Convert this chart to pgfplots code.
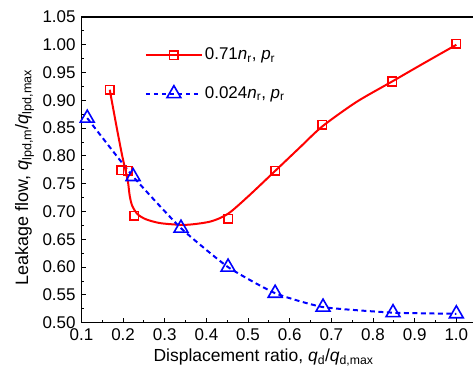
\documentclass[border=0pt]{standalone}
\usepackage{fontspec}
\setmainfont{Liberation Sans}
\usepackage{pgfplots}
\pgfplotsset{compat=1.18}
\begin{document}
\fontsize{17bp}{20bp}\selectfont
\begin{tikzpicture}
\begin{axis}[
  name=ax,
  scale only axis,
  width=392bp, height=306bp,
  xmin=0.1, xmax=1.04, ymin=0.5, ymax=1.05,
  axis x line=box, axis y line=left,
  axis line style={line width=1.1bp,-},
  xtick={0.1,0.2,...,1.01}, ytick={0.5,0.55,...,1.051},
  minor x tick num=1, minor y tick num=1,
  xtick pos=bottom, ytick pos=left,
  tick align=inside,
  major tick length=5bp, minor tick length=3bp,
  every tick/.style={line width=0.9bp, black},
  xticklabel style={/pgf/number format/.cd,fixed,fixed zerofill,precision=1,assume math mode=true},
  yticklabel style={/pgf/number format/.cd,fixed,fixed zerofill,precision=2,assume math mode=true},
  tick label style={font=\fontsize{17bp}{20bp}\selectfont},
  xlabel style={font=\fontsize{17.5bp}{20bp}\selectfont, at={(ticklabel cs:0.465)}, yshift=3bp},
  ylabel style={font=\fontsize{18bp}{21bp}\selectfont, at={(ticklabel cs:0.475)}, yshift=-3bp},
  xlabel={Displacement ratio, \textit{q}\textsubscript{d}/\textit{q}\textsubscript{d,max}},
  ylabel={Leakage flow, \textit{q}\textsubscript{lpd,m}/\textit{q}\textsubscript{lpd,max}},
  legend style={at={(axis cs:0.252,0.998)}, anchor=north west, draw=none, fill=none,
    font=\fontsize{17bp}{20bp}\selectfont, row sep=20bp, inner sep=0pt},
  legend cell align=left,
  legend image code/.code={\draw[mark repeat=2,mark phase=2,#1] plot coordinates {(0bp,0bp)(28bp,0bp)(56bp,0bp)};},
]
\addlegendimage{red, line width=2bp, mark=square, mark size=4.3bp, mark options={solid, fill=white, line width=1.6bp}}
\addlegendentry{0.71\textit{n}\textsubscript{r}, \textit{p}\textsubscript{r}}
\addlegendimage{blue, line width=2bp, dash pattern=on 4bp off 4bp, mark=triangle, mark size=8bp, mark options={solid, fill=white, line width=1.6bp}}
\addlegendentry{0.024\textit{n}\textsubscript{r}, \textit{p}\textsubscript{r}}
% red fitted curve
\addplot[red, line width=2bp, smooth, tension=0.45, forget plot] coordinates {
 (0.168,0.919) (0.185,0.850) (0.198,0.800) (0.207,0.770) (0.212,0.752) (0.216,0.728) (0.222,0.710)
 (0.235,0.695) (0.255,0.686) (0.29,0.679) (0.35,0.676) (0.41,0.682) (0.452,0.696)
 (0.50,0.727) (0.565,0.773) (0.624,0.815) (0.678,0.853) (0.76,0.897) (0.846,0.934) (0.92,0.966) (1.0,1.0)
};
% blue dashed curve
\addplot[blue, line width=2bp, dash pattern=on 5bp off 3.5bp, smooth, tension=0.3, forget plot] coordinates {
 (0.114,0.868) (0.224,0.763) (0.339,0.670) (0.452,0.600) (0.565,0.553) (0.68,0.528) (0.848,0.518) (1.0,0.516)
};
% red markers
\addplot[only marks, red, mark=square, mark size=4.3bp, mark options={fill=white, line width=1.6bp}, forget plot] coordinates {
 (0.168,0.919) (0.196,0.774) (0.211,0.773) (0.227,0.692) (0.452,0.687) (0.565,0.773) (0.678,0.856) (0.846,0.934) (1.0,1.002)
};
% blue markers
\addplot[only marks, blue, mark=triangle, mark size=8bp, mark options={fill=white, line width=1.6bp}, forget plot] coordinates {
 (0.114,0.868) (0.224,0.763) (0.339,0.670) (0.452,0.600) (0.565,0.553) (0.68,0.528) (0.848,0.518) (1.0,0.516)
};
\end{axis}
\pgfresetboundingbox
\path ([xshift=-81.5bp,yshift=-53bp]ax.south west) rectangle ([yshift=17bp]ax.north east);
\end{tikzpicture}
\end{document}
